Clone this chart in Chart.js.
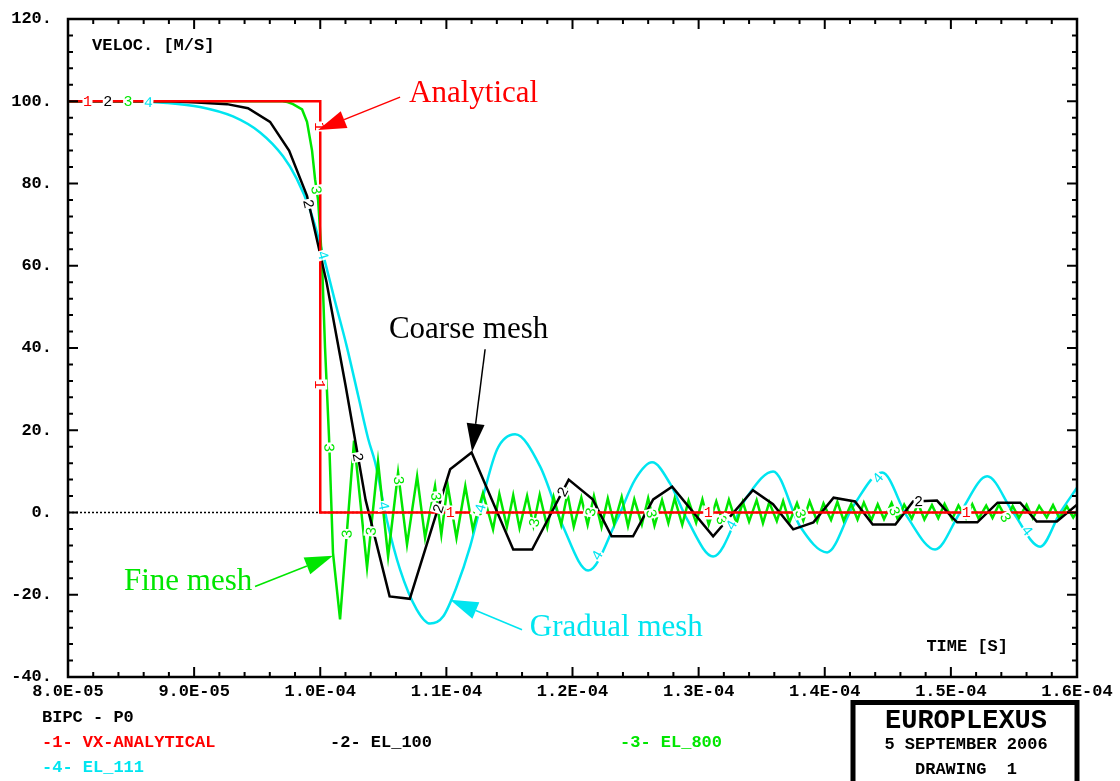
<!DOCTYPE html>
<html>
<head>
<meta charset="utf-8">
<script src="https://cdn.jsdelivr.net/npm/chart.js@4.4.1/dist/chart.umd.min.js"></script>
<style>
  html, body { margin: 0; padding: 0; background: #fff; }
</style>
</head>
<body>
<canvas id="chart" width="1120" height="781"></canvas>
<script>
// time in microseconds (axis labels show seconds), velocity in m/s
const analyticalTime = [80, 100, 100, 160];
const analyticalVel = [100, 100, 0, 0];

const coarseTime = [80, 88.1, 90.23, 92.61, 94.27, 96.02, 97.53, 98.95, 100.5, 102.0, 103.6, 105.5, 107.1,
  110.3, 112.0, 115.3, 116.8, 119.7, 121.6, 123.1, 124.8, 126.4, 127.9, 131.15, 134.3, 135.9, 137.5, 139.1,
  140.7, 142.4, 143.8, 145.6, 147.0, 148.9, 150.1, 150.5, 152.1, 153.7, 155.5, 156.8, 158.4, 160];
const coarseVel = [100, 100, 99.7, 99.3, 98.3, 95, 88, 77, 56, 31, 3, -20.4, -21,
  10.5, 14.6, -9, -9, 8, 3.2, -5.8, -5.8, 3.2, 6.3, -5.8, 5.4, 2, -4.1, -2.4,
  3.6, 2.7, -2.9, -2.9, 2.7, 2.9, -1.2, -2.4, -2.4, 2.4, 2.4, -2.2, -2.2, 1.9];

const fineTime = [80, 97.0, 97.4, 97.84, 98.56, 98.95, 99.35, 99.59, 99.83, 100.14, 100.38, 100.7, 101.01, 101.57,
  102.68, 103.71, 104.58, 105.38, 106.17, 106.88, 107.68, 108.31, 109.1, 109.6, 110.1, 110.8, 111.5, 112.1, 112.9, 113.7,
  114.2, 114.8, 115.3, 115.8, 116.4, 116.9, 117.4, 118.0, 118.5, 119.1, 119.6, 120.1, 120.7, 121.2, 121.7, 122.3,
  122.8, 123.3, 123.9, 124.4, 124.9, 125.5, 126.0, 126.5, 127.1, 127.6, 128.1, 128.7, 129.2, 129.8, 130.3, 130.8,
  131.4, 131.9, 132.4, 133.0, 133.5, 134.0, 134.6, 135.1, 135.6, 136.2, 136.7, 137.2, 137.8, 138.3, 138.8, 139.4,
  139.9, 140.5, 141.0, 141.5, 142.1, 142.6, 143.1, 143.7, 144.2, 144.7, 145.3, 145.8, 146.3, 146.9, 147.4, 147.9,
  148.5, 149.0, 149.5, 150.1, 150.6, 151.2, 151.7, 152.2, 152.8, 153.3, 153.8, 154.4, 154.9, 155.4, 156.0, 156.5,
  157.0, 157.6, 158.1, 158.6, 159.2, 159.7, 160];
const fineVel = [100, 100, 99.8, 99.3, 98, 95, 88, 81, 76, 61, 40, 18, -9.8, -26,
  17.5, -13.4, 12.4, -10.7, 9.7, -7.8, 8.8, -6.1, 6.4, -5.4, 6.7, -6.2, 6.4, -4.1, 4.7, -4.1,
  4.5, -3.5, 4.2, -3.8, 4.0, -3.2, 4.3, -3.6, 3.8, -3.0, 4.6, -3.4, 3.6, -3.0, 4.0, -3.5,
  3.4, -2.8, 3.8, -3.3, 3.2, -2.9, 3.5, -3.2, 3.0, -2.6, 3.4, -3.0, 2.9, -2.5, 3.2, -2.9,
  2.7, -2.3, 3.1, -2.7, 2.6, -2.2, 3.0, -2.6, 2.5, -2.1, 2.8, -2.4, 2.3, -2.0, 2.7, -2.2,
  2.2, -1.8, 2.6, -2.0, 2.1, -1.7, 2.4, -1.9, 2.0, -1.6, 2.3, -1.8, 1.9, -1.5, 2.2, -1.7,
  1.8, -1.4, 2.1, -1.6, 1.7, -1.4, 2.0, -1.5, 1.7, -1.3, 1.9, -1.5, 1.6, -1.3, 1.9, -1.4,
  1.6, -1.2, 1.8, -1.4, 1.5, -1.2, 0.3];

const gradualTime = [80, 85, 87.85, 90.47, 93.08, 95.23, 97.05, 98.13, 99.2, 100.25, 101.2, 102.1, 103.0, 103.81,
  104.35, 105.27, 106.33, 107.65, 108.71, 109.74, 110.82, 111.88, 112.91, 114.02, 115.45, 117.43, 119.25, 121.24,
  123.54, 124.96, 126.31, 127.74, 129.09, 131.15, 133.85, 135.91, 138.05, 140.19, 142.25, 144.55, 146.53, 148.75,
  150.74, 152.88, 154.94, 157.08, 158.67, 160];
const gradualVel = [100, 100, 99.6, 98.6, 96.3, 92.4, 86.6, 81.2, 73.5, 62.4, 51, 40.4, 28.5, 17.8,
  12.2, -1.7, -13.9, -23.6, -27, -25.3, -18, -8.3, 3.9, 15.3, 19, 11.2, -3.4, -14.1,
  -1.7, 8, 12.2, 7, -1.7, -10.7, 3.9, 10, -3.4, -9.7, 1.5, 9.7, -1.0, -9,
  0, 8.8, 0, -8.3, 0, 6];

const seriesNames = ['VX-ANALYTICAL', 'EL_100', 'EL_800', 'EL_111'];
const seriesColors = ['#ff0000', '#000000', '#00e600', '#00e5f0'];

const xMin = 80, xMax = 160, xMajor = 10, xMinor = 2;
const yMin = -40, yMax = 120, yMajor = 20, yMinor = 4;

// callouts: text anchor, arrow tail and arrow tip in data units
const callouts = [
  { text: 'Analytical', color: '#ff0000', at: [106.72, 101.7], align: 'left', tail: [106.33, 101.0], tip: [99.83, 93.0] },
  { text: 'Coarse mesh', color: '#000000', at: [111.76, 44.5], align: 'center', tail: [113.07, 39.7], tip: [112.04, 14.8] },
  { text: 'Fine mesh', color: '#00e600', at: [89.52, -16.8], align: 'center', tail: [94.83, -18.0], tip: [101.01, -10.5] },
  { text: 'Gradual mesh', color: '#00e5f0', at: [116.3, -28.0], align: 'left', tail: [116.0, -28.5], tip: [110.29, -21.2] }
];

const monoBold = 'bold 17px "Liberation Mono", "DejaVu Sans Mono", monospace';

function toPoints(ts, vs) {
  return ts.map((t, i) => ({ x: t, y: vs[i] }));
}

function fmtTime(v) {
  // 80 -> 8.0E-05
  return (v * 1e-6).toExponential(1).toUpperCase().replace(/E([+-])(\d)$/, 'E$10$2');
}

function drawArrow(ctx, x0, y0, x1, y1, color) {
  const ang = Math.atan2(y1 - y0, x1 - x0);
  const hl = 28, hw = 9;
  ctx.strokeStyle = color;
  ctx.fillStyle = color;
  ctx.lineWidth = 1.5;
  ctx.beginPath();
  ctx.moveTo(x0, y0);
  ctx.lineTo(x1 - Math.cos(ang) * hl, y1 - Math.sin(ang) * hl);
  ctx.stroke();
  ctx.beginPath();
  ctx.moveTo(x1, y1);
  ctx.lineTo(x1 - Math.cos(ang) * hl - Math.sin(ang) * hw, y1 - Math.sin(ang) * hl + Math.cos(ang) * hw);
  ctx.lineTo(x1 - Math.cos(ang) * hl + Math.sin(ang) * hw, y1 - Math.sin(ang) * hl - Math.cos(ang) * hw);
  ctx.closePath();
  ctx.fill();
}

// number marks placed along each curve every few hundred pixels of path length
function drawCurveLabels(chart) {
  const ctx = chart.ctx;
  ctx.save();
  ctx.font = '15px "Liberation Mono", monospace';
  ctx.textAlign = 'center';
  ctx.textBaseline = 'middle';
  chart.data.datasets.forEach((ds, i) => {
    const pts = chart.getDatasetMeta(i).data;
    let acc = 0, next = 19.5 + 20.3 * i;
    for (let k = 1; k < pts.length; k++) {
      const p0 = pts[k - 1], p1 = pts[k];
      const dx = p1.x - p0.x, dy = p1.y - p0.y, len = Math.hypot(dx, dy);
      while (len > 0 && next <= acc + len) {
        const f = (next - acc) / len;
        ctx.save();
        ctx.translate(p0.x + f * dx, p0.y + f * dy);
        ctx.rotate(Math.atan2(dy, dx));
        ctx.fillStyle = '#fff';
        ctx.fillRect(-5, -7, 10, 14);
        ctx.fillStyle = ds.borderColor;
        ctx.fillText(String(i + 1), 0, 1);
        ctx.restore();
        next += 258;
      }
      acc += len;
    }
  });
  ctx.restore();
}

const framePlugin = {
  id: 'frame',
  beforeDatasetsDraw(chart) {
    const { ctx, chartArea: a, scales: { y } } = chart;
    const y0 = y.getPixelForValue(0);
    ctx.save();
    ctx.strokeStyle = '#000';
    ctx.lineWidth = 1.5;
    ctx.setLineDash([2, 2]);
    ctx.beginPath();
    ctx.moveTo(a.left, y0);
    ctx.lineTo(a.right, y0);
    ctx.stroke();
    ctx.restore();
  },
  afterDatasetsDraw(chart) {
    const { ctx, chartArea: a, scales: { x, y } } = chart;
    drawCurveLabels(chart);

    ctx.save();
    // frame and inward ticks
    ctx.strokeStyle = '#000';
    ctx.lineWidth = 2.5;
    ctx.strokeRect(a.left, a.top, a.right - a.left, a.bottom - a.top);
    ctx.lineWidth = 2;
    ctx.beginPath();
    for (let v = xMin + xMinor; v < xMax; v += xMinor) {
      const px = x.getPixelForValue(v);
      const len = v % xMajor === 0 ? 10 : 5;
      ctx.moveTo(px, a.bottom); ctx.lineTo(px, a.bottom - len);
      ctx.moveTo(px, a.top); ctx.lineTo(px, a.top + len);
    }
    for (let v = yMin + yMinor; v < yMax; v += yMinor) {
      const py = y.getPixelForValue(v);
      const len = v % yMajor === 0 ? 10 : 5;
      ctx.moveTo(a.left, py); ctx.lineTo(a.left + len, py);
      ctx.moveTo(a.right, py); ctx.lineTo(a.right - len, py);
    }
    ctx.stroke();

    // axis titles
    ctx.fillStyle = '#000';
    ctx.font = monoBold;
    ctx.textBaseline = 'middle';
    ctx.textAlign = 'left';
    ctx.fillText('VELOC. [M/S]', a.left + 24, a.top + 27);
    ctx.textAlign = 'right';
    ctx.fillText('TIME [S]', a.right - 69, a.bottom - 30);

    // callouts
    callouts.forEach(c => {
      drawArrow(ctx, x.getPixelForValue(c.tail[0]), y.getPixelForValue(c.tail[1]),
        x.getPixelForValue(c.tip[0]), y.getPixelForValue(c.tip[1]), c.color);
      ctx.fillStyle = c.color;
      ctx.font = '31px "Liberation Serif", "Times New Roman", serif';
      ctx.textAlign = c.align;
      ctx.textBaseline = 'middle';
      ctx.fillText(c.text, x.getPixelForValue(c.at[0]) + (c.align === 'left' ? 4 : 0), y.getPixelForValue(c.at[1]));
    });

    // legend block under the axis
    ctx.font = monoBold;
    ctx.textAlign = 'left';
    ctx.textBaseline = 'middle';
    ctx.fillStyle = '#000';
    ctx.fillText('BIPC - P0', 42, 718);
    const legendPos = [[42, 743], [330, 743], [620, 743], [42, 768]];
    seriesNames.forEach((n, i) => {
      ctx.fillStyle = seriesColors[i];
      ctx.fillText('-' + (i + 1) + '- ' + n, legendPos[i][0], legendPos[i][1]);
    });

    // title box
    ctx.strokeStyle = '#000';
    ctx.lineWidth = 5;
    ctx.strokeRect(853, 702.5, 224, 90);
    ctx.fillStyle = '#000';
    ctx.textAlign = 'center';
    ctx.font = 'bold 27px "Liberation Mono", monospace';
    ctx.fillText('EUROPLEXUS', 966, 721);
    ctx.font = monoBold;
    ctx.fillText('5 SEPTEMBER 2006', 966, 745);
    ctx.fillText('DRAWING  1', 966, 770);
    ctx.restore();
  }
};

const allTimes = [analyticalTime, coarseTime, fineTime, gradualTime];
const allVels = [analyticalVel, coarseVel, fineVel, gradualVel];

new Chart(document.getElementById('chart'), {
  type: 'scatter',
  data: {
    datasets: seriesNames.map((n, i) => ({
      label: n,
      data: toPoints(allTimes[i], allVels[i]),
      showLine: true,
      borderColor: seriesColors[i],
      backgroundColor: seriesColors[i],
      borderWidth: 2.5,
      pointRadius: 0,
      tension: 0,
      cubicInterpolationMode: i === 3 ? 'monotone' : 'default'
    }))
  },
  options: {
    responsive: false,
    animation: false,
    devicePixelRatio: 1,
    layout: { padding: { left: 0, right: 43, top: 19, bottom: 74 } },
    plugins: { legend: { display: false }, tooltip: { enabled: false } },
    scales: {
      x: {
        type: 'linear',
        min: xMin,
        max: xMax,
        grid: { display: false, drawTicks: false },
        border: { display: false },
        afterFit(s) { s.height = 30; },
        ticks: {
          stepSize: xMajor,
          autoSkip: false,
          maxRotation: 0,
          minRotation: 0,
          padding: 5,
          color: '#000',
          font: { family: '"Liberation Mono", monospace', size: 17, weight: 'bold' },
          callback: v => fmtTime(v)
        }
      },
      y: {
        type: 'linear',
        min: yMin,
        max: yMax,
        grid: { display: false, drawTicks: false },
        border: { display: false },
        afterFit(s) { s.width = 68; s.paddingTop = 10; s.paddingBottom = 10; },
        ticks: {
          stepSize: yMajor,
          autoSkip: false,
          padding: 16,
          color: '#000',
          font: { family: '"Liberation Mono", monospace', size: 17, weight: 'bold' },
          callback: v => v + '.'
        }
      }
    }
  },
  plugins: [framePlugin]
});
</script>
</body>
</html>
